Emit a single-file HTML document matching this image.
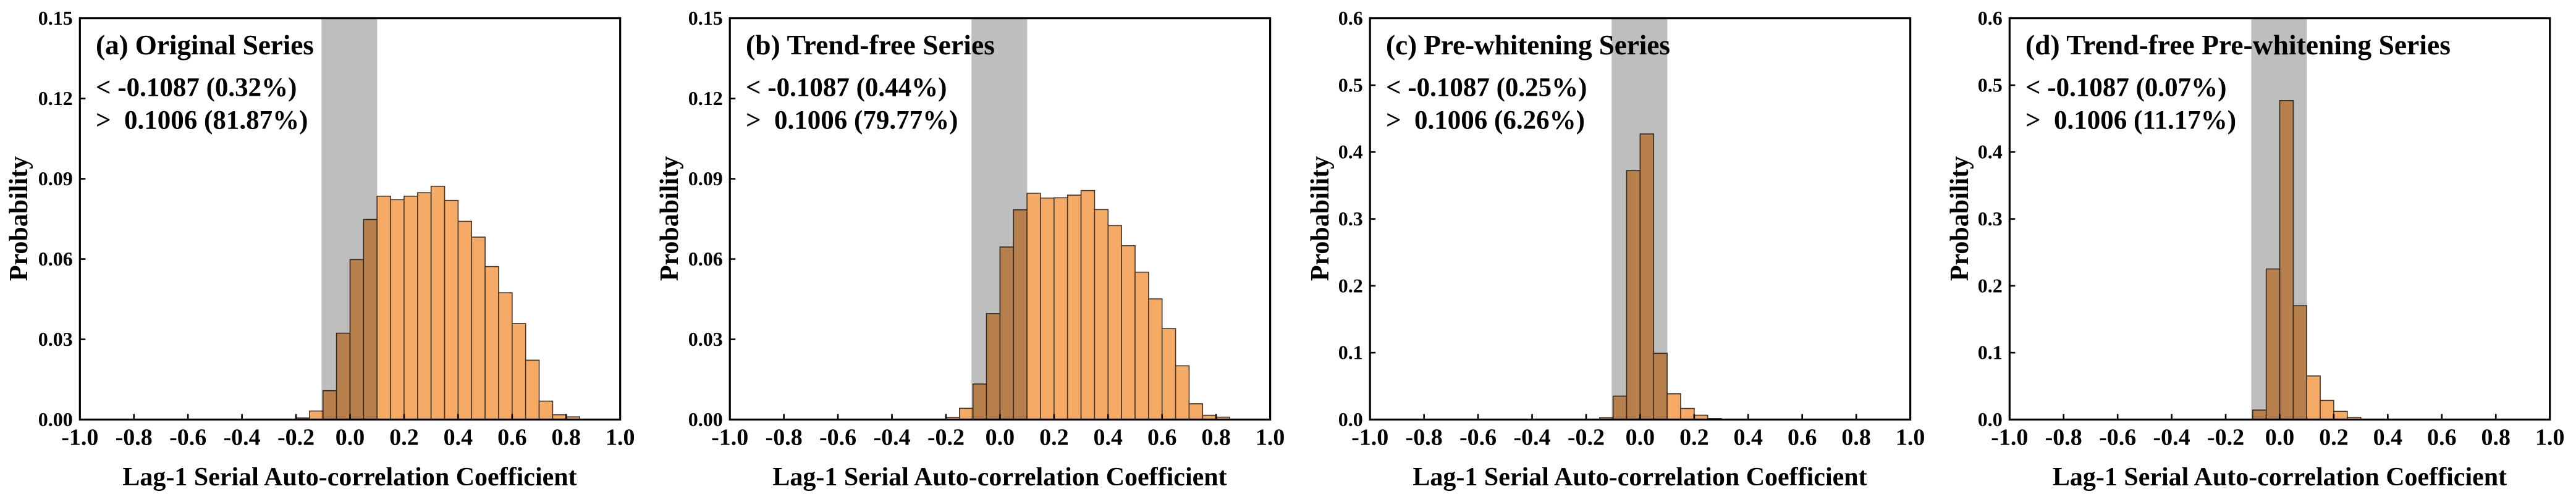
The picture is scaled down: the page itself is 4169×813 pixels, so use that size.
<!DOCTYPE html>
<html lang="en">
<head>
<meta charset="utf-8">
<title>Lag-1 Serial Auto-correlation Histograms</title>
<style>
html,body{margin:0;padding:0;background:#fff;}
body{width:4169px;height:813px;overflow:hidden;}
svg{display:block;}
text{font-family:"Liberation Serif",serif;font-weight:bold;fill:#000;white-space:pre;}
.panel-title{font-size:45.5px;}
.annotation{font-size:43px;}
.x-title,.y-title{font-size:42px;}
.x-title{text-anchor:middle;}
.y-title{text-anchor:middle;}
.x-tick{font-size:38px;text-anchor:middle;}
.y-tick{font-size:32px;text-anchor:end;}
</style>
</head>
<body>
<svg id="figure" width="4169" height="813" viewBox="0 0 4169 813" xmlns="http://www.w3.org/2000/svg">
  <rect x="0" y="0" width="4169" height="813" fill="#fff"/>

  <g id="panel-a">
    <g class="marks"></g>
    <text class="panel-title" x="155" y="88" textLength="353">(a) Original Series</text>
    <text class="annotation" x="155" y="155.5">&lt; -0.1087 (0.32%)</text>
    <text class="annotation" x="155" y="208.5">&gt;  0.1006 (81.87%)</text>
    <text class="x-title" x="566" y="786">Lag-1 Serial Auto-correlation Coefficient</text>
    <text class="y-title" transform="translate(44 354) rotate(-90)">Probability</text>
  </g>

  <g id="panel-b">
    <g class="marks"></g>
    <text class="panel-title" x="1207" y="88" textLength="403">(b) Trend-free Series</text>
    <text class="annotation" x="1207" y="155.5">&lt; -0.1087 (0.44%)</text>
    <text class="annotation" x="1207" y="208.5">&gt;  0.1006 (79.77%)</text>
    <text class="x-title" x="1618" y="786">Lag-1 Serial Auto-correlation Coefficient</text>
    <text class="y-title" transform="translate(1097 354) rotate(-90)">Probability</text>
  </g>

  <g id="panel-c">
    <g class="marks"></g>
    <text class="panel-title" x="2243" y="88" textLength="460">(c) Pre-whitening Series</text>
    <text class="annotation" x="2243" y="155.5">&lt; -0.1087 (0.25%)</text>
    <text class="annotation" x="2243" y="208.5">&gt;  0.1006 (6.26%)</text>
    <text class="x-title" x="2654" y="786">Lag-1 Serial Auto-correlation Coefficient</text>
    <text class="y-title" transform="translate(2150 354) rotate(-90)">Probability</text>
  </g>

  <g id="panel-d">
    <g class="marks"></g>
    <text class="panel-title" x="3278" y="88" textLength="688">(d) Trend-free Pre-whitening Series</text>
    <text class="annotation" x="3278" y="155.5">&lt; -0.1087 (0.07%)</text>
    <text class="annotation" x="3278" y="208.5">&gt;  0.1006 (11.17%)</text>
    <text class="x-title" x="3689.5" y="786">Lag-1 Serial Auto-correlation Coefficient</text>
    <text class="y-title" transform="translate(3185 354) rotate(-90)">Probability</text>
  </g>
</svg>

<script>
// Data
var binLeftEdges = [-0.2,-0.15,-0.1,-0.05,0,0.05,0.1,0.15,0.2,0.25,0.3,0.35,0.4,0.45,0.5,0.55,0.6,0.65,0.7,0.75,0.8];
var binWidth = 0.05;
var originalSeries = [0.0006,0.0032,0.0108,0.0323,0.0598,0.0748,0.0835,0.0822,0.0835,0.0848,0.0872,0.0819,0.0741,0.0682,0.0572,0.0474,0.0359,0.0222,0.0069,0.0018,0.001];
var trendFreeSeries = [0.0008,0.0042,0.0133,0.0396,0.0645,0.0784,0.0846,0.0828,0.0829,0.0839,0.0856,0.0785,0.0725,0.065,0.0551,0.0451,0.034,0.0201,0.0059,0.0016,0.0009];
var preWhiteningSeries = [0,0.0028,0.0351,0.3723,0.427,0.0991,0.0385,0.0166,0.0065,0.0015,0,0,0,0,0,0,0,0,0,0,0];
var trendFreePreWhiteningSeries = [0,0,0.0142,0.2252,0.477,0.1702,0.0652,0.0286,0.0123,0.0034,0,0,0,0,0,0,0,0,0,0,0];
var significanceBand = [-0.1055,0.1006];
var xTickLabels = ['-1.0','-0.8','-0.6','-0.4','-0.2','0.0','0.2','0.4','0.6','0.8','1.0'];
var yTickLabelsFine = ['0.00','0.03','0.06','0.09','0.12','0.15'];
var yTickLabelsCoarse = ['0.0','0.1','0.2','0.3','0.4','0.5','0.6'];

var SVG_NS = 'http://www.w3.org/2000/svg';
var plotTop = 29.6, plotBottom = 679.5, plotWidth = 874.4;

function make(tag, parent, attrs, content) {
  var el = document.createElementNS(SVG_NS, tag);
  for (var k in attrs) el.setAttribute(k, attrs[k]);
  if (content !== undefined) el.textContent = content;
  parent.appendChild(el);
  return el;
}

function drawPanel(id, left, values, yLabels) {
  var root = document.querySelector('#' + id + ' .marks');
  var yMax = parseFloat(yLabels[yLabels.length - 1]);
  var xScale = function (v) { return left + (v + 1) / 2 * plotWidth; };
  var yScale = function (v) { return plotBottom - v / yMax * (plotBottom - plotTop); };

  values.forEach(function (v, i) {
    if (v <= 0) return;
    var x0 = xScale(binLeftEdges[i]);
    var x1 = xScale(binLeftEdges[i] + binWidth);
    var bar = make('rect', root, {x: x0, y: yScale(v), width: x1 - x0, height: plotBottom - yScale(v), fill: '#f5aa66', stroke: '#40352b', 'stroke-width': 1.6});
    
    
  });

  var band = make('rect', root, {x: xScale(significanceBand[0]), y: plotTop, width: xScale(significanceBand[1]) - xScale(significanceBand[0]), height: plotBottom - plotTop, fill: '#bebebe', style: 'mix-blend-mode:multiply'});
  
  

  var frame = make('rect', root, {x: left, y: plotTop, width: plotWidth, height: plotBottom - plotTop, fill: 'none', stroke: '#000', 'stroke-width': 3.2});
  
  

  xTickLabels.forEach(function (label) {
    var v = parseFloat(label);
    var x = xScale(v);
    if (v > -1 && v < 1) {
      var mark = make('line', root, {x1: x, x2: x, y1: plotBottom, y2: plotBottom - 9, stroke: '#000', 'stroke-width': 2.6});
      
      
    }
    var text = make('text', root, {'class': 'x-tick', x: x, y: 720.5}, label);
    
    
  });

  yLabels.forEach(function (label) {
    var v = parseFloat(label);
    var y = yScale(v);
    if (v > 0 && v < yMax) {
      var mark = make('line', root, {x1: left, x2: left + 9, y1: y, y2: y, stroke: '#000', 'stroke-width': 2.6});
      
      
    }
    var text = make('text', root, {'class': 'y-tick', x: left - 11.5, y: y + 10.5}, label);
    
    
  });
}

drawPanel('panel-a', 129.3, originalSeries, yTickLabelsFine);
drawPanel('panel-b', 1181.2, trendFreeSeries, yTickLabelsFine);
drawPanel('panel-c', 2217.2, preWhiteningSeries, yTickLabelsCoarse);
drawPanel('panel-d', 3252.3, trendFreePreWhiteningSeries, yTickLabelsCoarse);
</script>
</body>
</html>
